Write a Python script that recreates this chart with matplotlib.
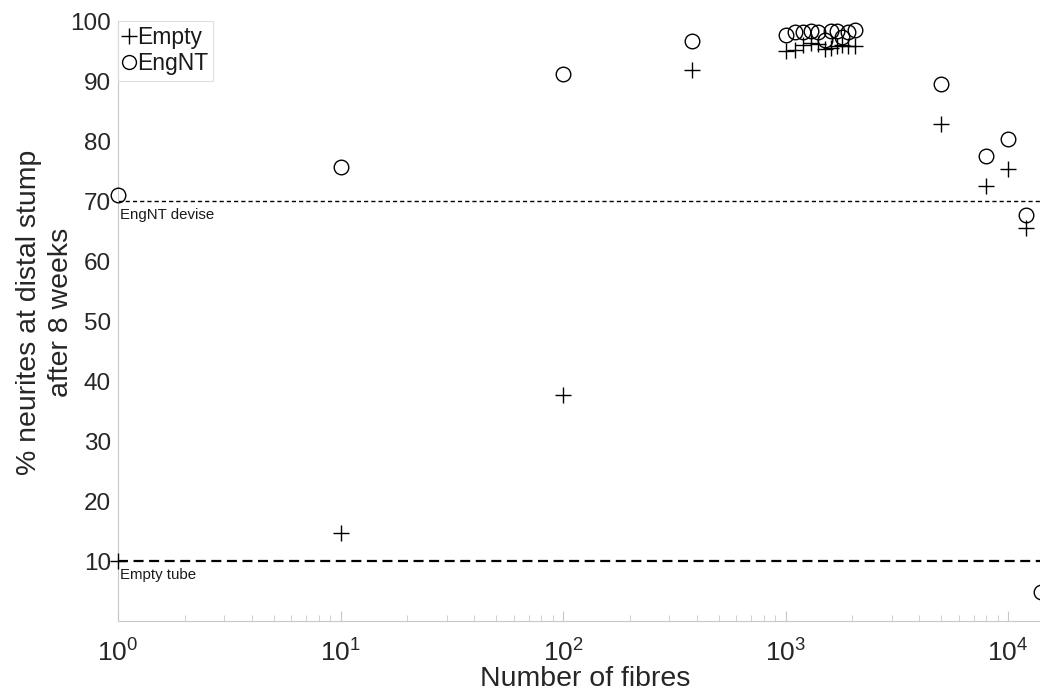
import matplotlib
matplotlib.use("Agg")
import matplotlib.pyplot as plt
from matplotlib.lines import Line2D

plt.rcParams['font.family'] = ['Liberation Sans', 'DejaVu Sans']
plt.rcParams['mathtext.fontset'] = 'custom'
plt.rcParams['mathtext.rm'] = 'Liberation Sans'
plt.rcParams['mathtext.it'] = 'Liberation Sans'
plt.rcParams['mathtext.default'] = 'regular'

# Number of fibres for each simulated conduit
fibres = [1, 10, 100, 380,
          1000, 1100, 1200, 1300, 1400, 1500, 1600, 1700, 1800, 1900, 2050,
          5000, 8000, 10000, 12000]
fibres_engnt_extra = [14000]

# % neurites reaching the distal stump after 8 weeks
empty_pct = [10.0, 14.6, 37.7, 91.9,
             95.0, 95.2, 96.0, 96.3, 96.2, 95.3, 95.5, 95.8, 96.0, 95.9, 95.8,
             82.8, 72.5, 75.3, 65.5]
engnt_pct = [71.0, 75.7, 91.2, 96.6,
             97.6, 98.2, 98.2, 98.3, 98.2, 96.9, 98.4, 98.3, 97.3, 98.2, 98.5,
             89.5, 77.5, 80.3, 67.6]
engnt_extra_pct = [4.9]

# Reference levels from experiments
engnt_device_level = 70
empty_tube_level = 10

# Axes run slightly past the right edge of the canvas
decade_px = 222.5
axes_px = 934
fig = plt.figure(figsize=(10.4, 6.93), dpi=100)
ax = fig.add_axes([118 / 1040, 72 / 693, axes_px / 1040, 600 / 693])

ax.set_xscale('log')
ax.set_xlim(1, 10 ** (axes_px / decade_px))
ax.set_ylim(0, 100)

ax.axhline(engnt_device_level, color='black', lw=1.0, ls=(0, (3.0, 2.2)), zorder=1)
ax.axhline(empty_tube_level, color='black', lw=1.6, ls=(0, (4.5, 2.5)), zorder=1)

ax.text(1.02, engnt_device_level - 1.2, 'EngNT devise', fontsize=10.8,
        va='top', ha='left', color='#1a1a1a')
ax.text(1.02, empty_tube_level - 1.2, 'Empty tube', fontsize=10.8,
        va='top', ha='left', color='#1a1a1a')

ax.plot(fibres, empty_pct, ls='none', marker='+', ms=11.5, mew=1.0,
        color='black', clip_on=False, zorder=3)
ax.plot(fibres + fibres_engnt_extra, engnt_pct + engnt_extra_pct, ls='none',
        marker='o', ms=10.5, mew=1.0, mfc='none', mec='black', clip_on=False,
        zorder=3)

ax.set_yticks(range(10, 101, 10))
ax.set_xticks([1, 10, 100, 1000, 10000])
ax.set_xticklabels([r'$10^{0}$', r'$10^{1}$', r'$10^{2}$', r'$10^{3}$', r'$10^{4}$'])

for s in ['top', 'right']:
    ax.spines[s].set_visible(False)
for s in ['left', 'bottom']:
    ax.spines[s].set_color('#c8c8c8')
    ax.spines[s].set_linewidth(0.8)

ax.tick_params(axis='both', which='both', direction='in', colors='#c8c8c8',
               labelcolor='#262626', labelsize=17.5)
ax.tick_params(axis='x', which='major', length=7, pad=13, labelsize=19)
ax.tick_params(axis='x', which='minor', length=4)
ax.tick_params(axis='y', which='major', length=0, pad=5)

ax.set_xlabel('Number of fibres', fontsize=20.5, color='#262626', labelpad=0)
ax.set_ylabel('% neurites at distal stump\nafter 8 weeks', fontsize=20.5,
              color='#262626', linespacing=1.3)
ax.yaxis.set_label_coords(-0.047, 0.515)

handles = [Line2D([], [], ls='none', marker='+', ms=11, mew=1.0, color='black'),
           Line2D([], [], ls='none', marker='o', ms=10, mew=1.0, mfc='none',
                  mec='black')]
leg = ax.legend(handles, ['Empty', 'EngNT'], loc='upper left',
                bbox_to_anchor=(0.0, 1.0), fontsize=16.5, frameon=True,
                fancybox=False, edgecolor='#d8d8d8', handlelength=0.5,
                handletextpad=0.12, borderpad=0.22, labelspacing=0.15,
                borderaxespad=0.0)
leg.get_frame().set_linewidth(0.8)
for t in leg.get_texts():
    t.set_color('#1a1a1a')

fig.savefig('out.png', dpi=100)
